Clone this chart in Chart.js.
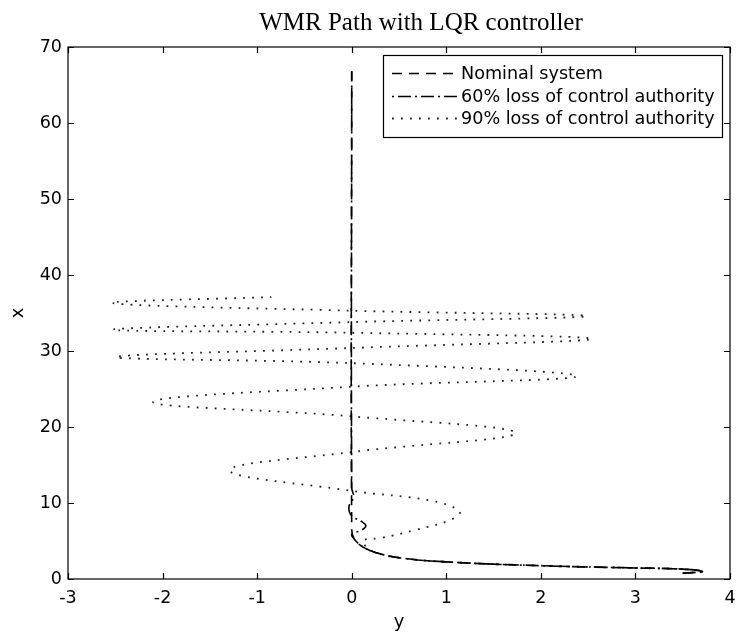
<!DOCTYPE html>
<html>
<head>
<meta charset="utf-8">
<title>WMR Path with LQR controller</title>
<script src="https://cdn.jsdelivr.net/npm/chart.js@4.4.0/dist/chart.umd.min.js"></script>
<style>
  html, body { margin: 0; padding: 0; background: #fff; }
  canvas { display: block; }
</style>
</head>
<body>
<canvas id="pathChart" width="737" height="637"></canvas>
<script>
// horizontal axis = lateral position y, vertical axis = forward position x
var titleText = "WMR Path with LQR controller";
var seriesNames = ["Nominal system", "60% loss of control authority", "90% loss of control authority"];
var yTicks = [-3, -2, -1, 0, 1, 2, 3, 4];
var xTicks = [0, 10, 20, 30, 40, 50, 60, 70];

// nominal system path
var nominalY = [3.5, 3.71, 3.5, 3.0, 2.0, 1.0, 0.5, 0.25, 0.12, 0.03, 0.0, 0.0];
var nominalX = [0.75, 1.0, 1.3, 1.45, 1.75, 2.25, 2.8, 3.5, 4.2, 5.2, 6.5, 66.8];

// 60% loss of control authority
var loss60Y = [3.5, 3.71, 3.5, 3.0, 2.0, 1.0, 0.5, 0.25, 0.12, 0.03, 0.0, 0.1, 0.15, 0.1, 0.0, -0.03, 0.02, 0.0, 0.0];
var loss60X = [0.75, 1.0, 1.3, 1.45, 1.75, 2.25, 2.8, 3.5, 4.2, 5.2, 5.9, 6.4, 7.0, 7.6, 8.3, 9.5, 10.8, 12.0, 66.8];

// 90% loss of control authority
var loss90Y = [3.5, 3.71, 3.5, 3.0, 2.0, 1.0, 0.5, 0.25, 0.15, 0.12, 0.31, 0.69, 1.05, 1.14, 0.84, 0.0,
  -1.29, 0.0, 1.73, 0.0, -2.10, 0.0, 2.38, 0.0, -2.49, 0.0, 2.54, 0.0, -2.53, 0.0, 2.48, 0.0, -2.53, -0.85];
var loss90X = [0.75, 1.0, 1.3, 1.45, 1.75, 2.25, 2.8, 3.5, 4.3, 5.1, 5.4, 6.5, 7.8, 8.9, 10.3, 11.6,
  14.3, 16.7, 19.2, 21.4, 23.3, 25.3, 26.7, 28.4, 29.2, 30.4, 31.6, 32.4, 32.8, 33.8, 34.6, 35.3, 36.3, 37.1];

function toPoints(ys, xs) {
  var pts = [];
  for (var i = 0; i < ys.length; i++) {
    pts.push({ x: ys[i], y: xs[i] });
  }
  return pts;
}

var tickFont = { family: "DejaVu Sans", size: 17.5 };

// frame with inward ticks, title and boxed legend (MATLAB look)
var matlabLook = {
  id: "matlabLook",
  afterDraw: function (chart) {
    var ctx = chart.ctx;
    var a = chart.chartArea;
    var sx = chart.scales.x, sy = chart.scales.y;
    var tl = 6;
    ctx.save();
    ctx.strokeStyle = "#000";
    ctx.lineWidth = 1.2;
    ctx.setLineDash([]);
    ctx.strokeRect(a.left, a.top, a.right - a.left, a.bottom - a.top);
    ctx.beginPath();
    sx.ticks.forEach(function (t) {
      var px = Math.round(sx.getPixelForValue(t.value)) + 0.5;
      ctx.moveTo(px, a.bottom); ctx.lineTo(px, a.bottom - tl);
      ctx.moveTo(px, a.top); ctx.lineTo(px, a.top + tl);
    });
    sy.ticks.forEach(function (t) {
      var py = Math.round(sy.getPixelForValue(t.value)) + 0.5;
      ctx.moveTo(a.left, py); ctx.lineTo(a.left + tl, py);
      ctx.moveTo(a.right, py); ctx.lineTo(a.right - tl, py);
    });
    ctx.stroke();

    // title
    ctx.fillStyle = "#000";
    ctx.font = '25px "Liberation Serif"';
    ctx.textAlign = "center";
    ctx.textBaseline = "alphabetic";
    ctx.fillText(titleText, 421, 30);

    // legend
    var bx = 383, by = 55, bw = 339, bh = 82;
    ctx.fillStyle = "#fff";
    ctx.fillRect(bx, by, bw, bh);
    ctx.lineWidth = 1.2;
    ctx.strokeRect(bx + 0.5, by + 0.5, bw, bh);
    var rows = [73, 96, 118];
    ctx.font = '17.6px "DejaVu Sans"';
    ctx.textAlign = "left";
    ctx.textBaseline = "middle";
    chart.data.datasets.forEach(function (ds, i) {
      ctx.beginPath();
      ctx.setLineDash(ds.borderDash);
      ctx.lineDashOffset = ds.legendOffset || 0;
      ctx.lineWidth = ds.borderWidth;
      ctx.strokeStyle = ds.borderColor;
      ctx.moveTo(392, rows[i] + 0.5);
      ctx.lineTo(457, rows[i] + 0.5);
      ctx.stroke();
      ctx.setLineDash([]);
      ctx.fillStyle = "#000";
      ctx.fillText(ds.label, 461, rows[i] + 1);
    });
    ctx.restore();
  }
};

var ctx = document.getElementById("pathChart").getContext("2d");
var pathChart = new Chart(ctx, {
  type: "scatter",
  data: {
    datasets: [
      {
        label: seriesNames[0],
        data: toPoints(nominalY, nominalX),
        showLine: true,
        borderColor: "#000",
        borderWidth: 1.6,
        borderDash: [10, 7],
        pointRadius: 0,
        tension: 0.4,
        fill: false
      },
      {
        label: seriesNames[1],
        data: toPoints(loss60Y, loss60X),
        showLine: true,
        borderColor: "#000",
        borderWidth: 1.6,
        borderDash: [13, 4, 2, 4],
        legendOffset: 17,
        pointRadius: 0,
        tension: 0.4,
        fill: false
      },
      {
        label: seriesNames[2],
        data: toPoints(loss90Y, loss90X),
        showLine: true,
        borderColor: "#222",
        borderWidth: 1.8,
        borderDash: [1.8, 7.2],
        pointRadius: 0,
        tension: 0.4,
        fill: false
      }
    ]
  },
  options: {
    responsive: false,
    animation: false,
    devicePixelRatio: 1,
    layout: { padding: { left: 0, right: 7, top: 47, bottom: 0 } },
    plugins: {
      legend: { display: false },
      title: { display: false },
      tooltip: { enabled: false }
    },
    scales: {
      x: {
        type: "linear",
        min: yTicks[0],
        max: yTicks[yTicks.length - 1],
        ticks: { stepSize: 1, color: "#000", font: tickFont, padding: 9, maxRotation: 0 },
        grid: { display: false, drawTicks: false },
        border: { display: false },
        title: { display: true, text: "y", color: "#000", font: { family: "DejaVu Sans", size: 18 }, padding: { top: 0, bottom: 4 } },
        afterFit: function (s) { s.height = 58; s.paddingLeft = 0; s.paddingRight = 0; }
      },
      y: {
        type: "linear",
        min: xTicks[0],
        max: xTicks[xTicks.length - 1],
        ticks: { stepSize: 10, color: "#000", font: tickFont, padding: 6 },
        grid: { display: false, drawTicks: false },
        border: { display: false },
        title: { display: true, text: "x", color: "#000", font: { family: "DejaVu Sans", size: 18 }, padding: { top: 8, bottom: 0 } },
        afterFit: function (s) { s.width = 68; s.paddingTop = 0; s.paddingBottom = 0; }
      }
    }
  },
  plugins: [matlabLook]
});
</script>
</body>
</html>
